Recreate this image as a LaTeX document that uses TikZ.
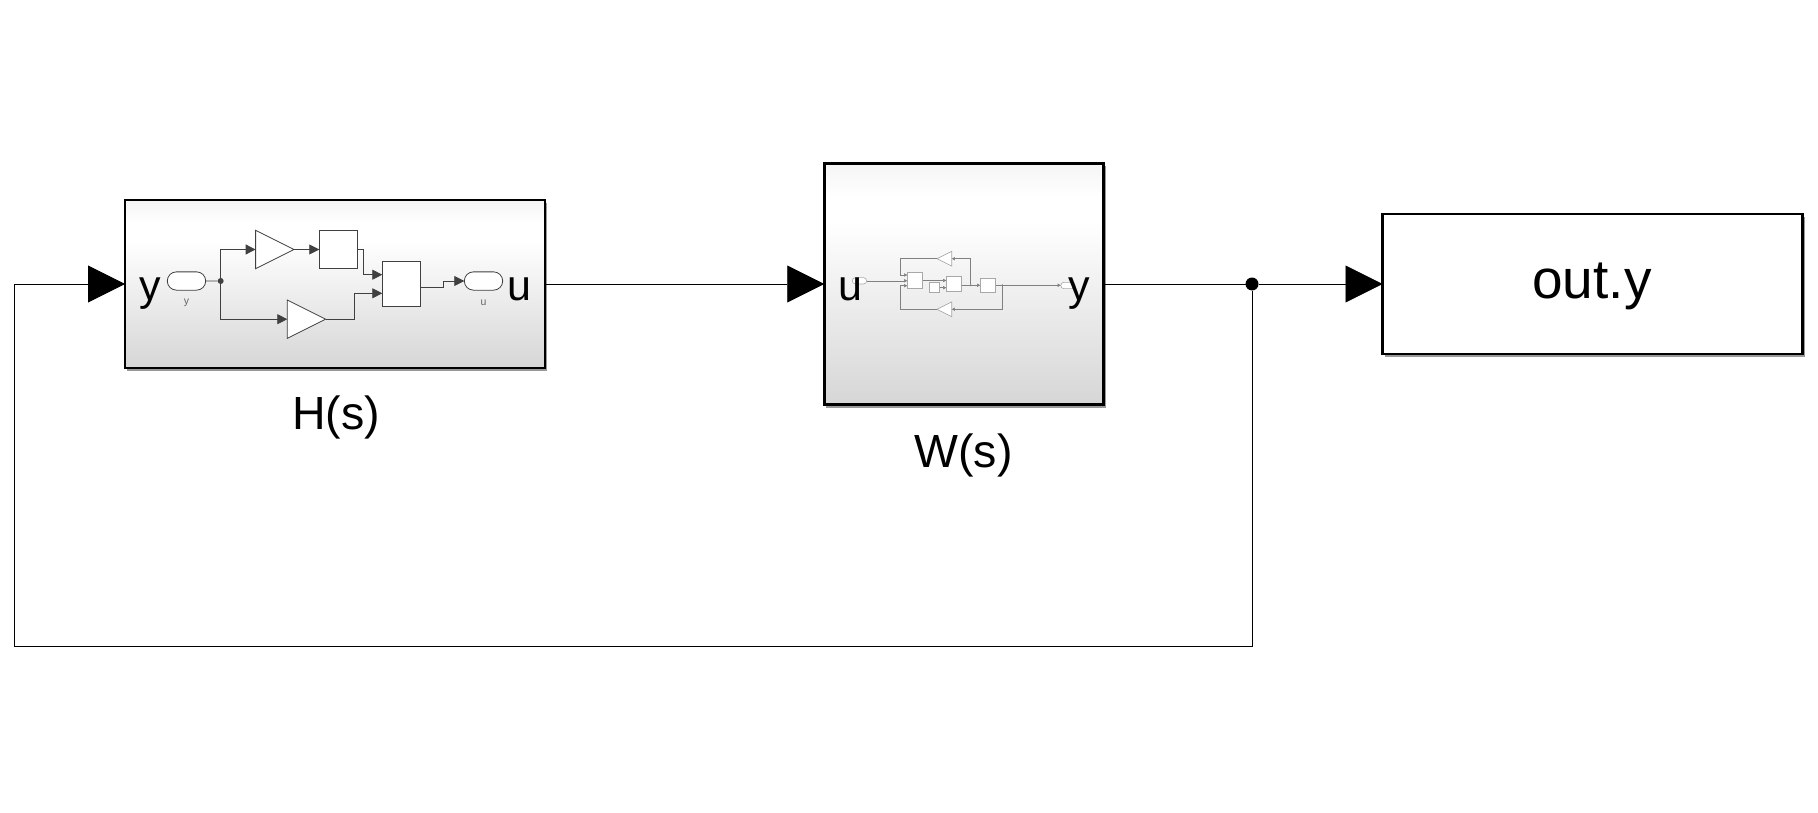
\documentclass[tikz,border=0pt]{standalone}
\usepackage{fontspec}
\setmainfont{Liberation Sans}
\usetikzlibrary{arrows.meta,shapes.geometric,shapes.misc,shadows}
\definecolor{shD}{HTML}{D6D6D6}
\definecolor{shT}{HTML}{F5F5F5}
\definecolor{inkH}{HTML}{404040}
\definecolor{inkW}{HTML}{808080}
\definecolor{edgeW}{HTML}{A8A8A8}
\pgfdeclareverticalshading{blockshade}{100bp}{color(0bp)=(shD); color(25bp)=(shD); color(63bp)=(white); color(68bp)=(white); color(75bp)=(shT); color(100bp)=(shT)}
\tikzset{
  blockbox/.style={draw=black,line width=2.8pt,inner sep=0pt,outer sep=0pt,
    general shadow={fill=black!40,shadow xshift=2pt,shadow yshift=-3pt}},
  shadedbox/.style={blockbox,shading=blockshade},
  mainwire/.style={draw=black,line width=0.9pt},
  mainarrow/.style={mainwire,-{Triangle[length=37pt,width=37pt]}},
  bigdot/.style={circle,fill=black,inner sep=0pt,outer sep=0pt,minimum size=13pt},
  bigtext/.style={font=\fontsize{43}{43}\selectfont,inner sep=0pt,anchor=base},
  captext/.style={font=\fontsize{46.5}{46.5}\selectfont,inner sep=0pt,anchor=base},
  hbox/.style={draw=inkH,fill=white,line width=0.8pt,inner sep=0pt,outer sep=0pt},
  hport/.style={hbox,rounded rectangle,minimum width=38.4pt,minimum height=18.3pt},
  htri/.style={hbox,isosceles triangle,isosceles triangle stretches,shape border rotate=0,
    minimum width=38.4pt,minimum height=38.4pt,anchor=apex},
  hwire/.style={draw=inkH,line width=0.8pt},
  harrow/.style={hwire,-{Triangle[length=10pt,width=10pt]}},
  hdot/.style={circle,fill=inkH,inner sep=0pt,outer sep=0pt,minimum size=6pt},
  smalltext/.style={font=\fontsize{10.5}{10.5}\selectfont,text=black!60,inner sep=0pt},
  wbox/.style={draw=edgeW,fill=white,line width=0.6pt,inner sep=0pt,outer sep=0pt},
  wport/.style={wbox,rounded rectangle,minimum width=14.4pt,minimum height=6.3pt},
  wtri/.style={wbox,isosceles triangle,isosceles triangle stretches,shape border rotate=180,
    minimum width=14.7pt,minimum height=14.7pt,anchor=apex},
  wwire/.style={draw=inkW,line width=0.45pt},
  warrow/.style={wwire,-{Triangle[length=3.2pt,width=3.2pt]}},
  wdot/.style={circle,fill=inkW,inner sep=0pt,outer sep=0pt,minimum size=2.2pt},
}
\begin{document}
\begin{tikzpicture}[x=1pt,y=-1pt]
\useasboundingbox[fill=white] (0,0) rectangle (1818,813);
% main blocks
\node[shadedbox,minimum width=420pt,minimum height=168pt] (H) at (335,284) {};
\node[shadedbox,minimum width=279.5pt,minimum height=241.5pt] (W) at (964,284) {};
\node[blockbox,fill=white,minimum width=420pt,minimum height=140pt] (O) at (1592.5,284) {};
\node[captext] (Hlab) at (336,429) {H(s)};
\node[captext] (Wlab) at (963.5,467) {W(s)};
\node[inner sep=0pt,anchor=base,font=\fontsize{55}{55}\selectfont] (Olab) at (1592,298.5) {out.y};
% main wiring
\node[bigdot] (J) at (1252,284) {};
\coordinate (Jb) at (1252,646.5);
\coordinate (Lb) at (14,646.5);
\draw[mainarrow] (H.east) -- (W.west);
\draw[mainwire] (W.east) -- (J);
\draw[mainarrow] (J) -- (O.west);
\draw[mainarrow] (J) -- (Jb) -- (Lb) |- (H.west);
% H(s) interior
\node[hport] (Hp1) at (186.5,281) {};
\node[hport] (Hp2) at (483.5,281) {};
\node[smalltext] (Hpl1) at (186.5,302.5) {y};
\node[smalltext] (Hpl2) at (483.5,302.5) {u};
\node[hdot] (Hj) at (220.7,281) {};
\node[htri] (Ht1) at (294,249.5) {};
\node[htri] (Ht2) at (325.7,319.2) {};
\node[hbox,minimum width=38.4pt,minimum height=38.4pt] (Hq) at (338.5,249.5) {};
\node[hbox,minimum width=38.4pt,minimum height=45pt] (Hs) at (401.5,284.2) {};
\coordinate (Ha) at (363.3,274.7);
\coordinate (Hb) at (354.3,293.3);
\coordinate (Hc) at (443.3,287.3);
\draw[hwire] (Hp1) -- (Hj);
\draw[harrow] (Hj) |- (Ht1.lower side);
\draw[harrow] (Hj) |- (Ht2.lower side);
\draw[harrow] (Ht1.apex) -- (Hq.west);
\draw[harrow] (Hq.east) -| (Ha) -- (Ha -| Hs.west);
\draw[harrow] (Ht2.apex) -| (Hb) -- (Hb -| Hs.west);
\draw[harrow] (Hs.east |- Hc) -- (Hc) |- (Hp2.west);
\node[bigtext] (Hy) at (150,300) {y};
\node[bigtext] (Hu) at (519,300) {u};
% W(s) interior
\node[wport] (Wp1) at (859.5,280.8) {};
\node[wport] (Wp2) at (1068,285.5) {};
\node[wbox,minimum width=15.4pt,minimum height=16.4pt] (Wa) at (915,280.5) {};
\node[wbox,minimum width=10.4pt,minimum height=10pt] (Wm) at (934.5,287.7) {};
\node[wbox,minimum width=15.4pt,minimum height=15.4pt] (Wb) at (954,284) {};
\node[wbox,minimum width=15.4pt,minimum height=14.4pt] (Wc) at (988,285.5) {};
\node[wtri] (Wt1) at (937,258.7) {};
\node[wtri] (Wt2) at (937,309.3) {};
\node[wdot] (Wj1) at (970.7,285.3) {};
\node[wdot] (Wj2) at (1002.3,285.3) {};
\coordinate (Wta) at (900.3,275);
\coordinate (Wtb) at (900.3,285.7);
\draw[warrow] (Wp1.east) -- (Wp1.east -| Wa.west);
\draw[warrow] (Wt1.apex) -| (Wta) -- (Wta -| Wa.west);
\draw[warrow] (Wt2.apex) -| (Wtb) -- (Wtb -| Wa.west);
\draw[warrow] (Wa.east) -- (Wa.east -| Wb.west);
\draw[warrow] (Wm.east) -- (Wm.east -| Wb.west);
\draw[warrow] (Wb.east |- Wj1) -- (Wj1 -| Wc.west);
\draw[warrow] (Wj1) |- (Wt1.lower side);
\draw[warrow] (Wj2) |- (Wt2.lower side);
\draw[warrow] (Wc.east |- Wj2) -- (Wj2 -| Wp2.west);
\node[bigtext] (Wu) at (850,300) {u};
\node[bigtext] (Wy) at (1079,300) {y};
\end{tikzpicture}
\end{document}
